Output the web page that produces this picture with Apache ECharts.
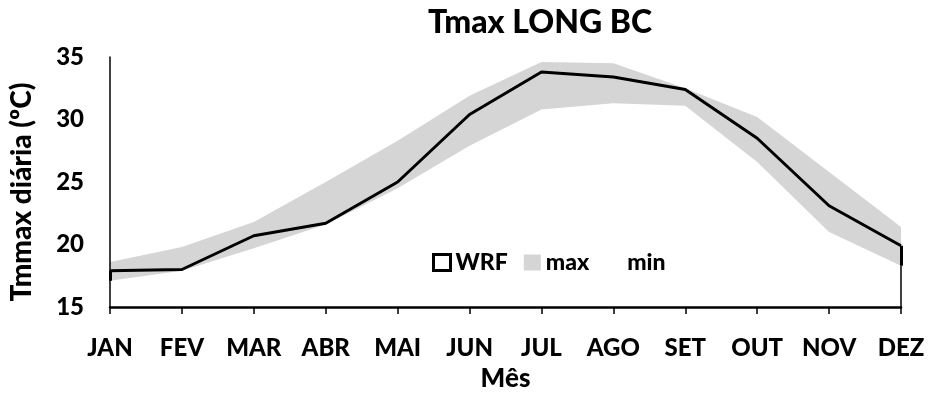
<!DOCTYPE html>
<html>
<head>
<meta charset="utf-8">
<script src="https://cdn.jsdelivr.net/npm/echarts@6/dist/echarts.min.js"></script>
<style>html,body{margin:0;padding:0;background:#fff}#c{width:928px;height:397px}</style>
</head>
<body>
<div id="c"></div>
<script>
const months = ['JAN','FEV','MAR','ABR','MAI','JUN','JUL','AGO','SET','OUT','NOV','DEZ'];
const wrf  = [17.9, 18.0, 20.7, 21.7, 25.0, 30.4, 33.8, 33.4, 32.4, 28.5, 23.1, 19.9];
const maxV = [18.6, 19.8, 21.8, 25.0, 28.3, 31.9, 34.6, 34.5, 32.5, 30.2, 25.8, 21.4];
const minV = [17.1, 17.9, 19.7, 21.6, 24.5, 27.9, 30.8, 31.3, 31.1, 26.6, 21.0, 18.3];
const yTicks = {min: 15, max: 35, interval: 5};

const band = maxV.map((v, i) => +(v - minV[i]).toFixed(2));
const last = months.length - 1;
const FONT = 'Lato';
const W = 900;

const chart = echarts.init(document.getElementById('c'), null, {renderer: 'canvas'});
chart.setOption({
  animation: false,
  backgroundColor: '#fff',
  title: {
    text: 'Tmax LONG BC',
    left: 535, top: 2, textAlign: 'center',
    textStyle: {fontFamily: FONT, fontWeight: W, fontSize: 32, color: '#000'}
  },
  grid: {left: 106, right: 27, top: 57, bottom: 84},
  legend: {
    left: 427, top: 246, itemWidth: 17, itemHeight: 16, itemGap: 16,
    textStyle: {fontFamily: FONT, fontWeight: W, fontSize: 23, color: '#000'},
    data: [
      {name: 'WRF', icon: 'rect', itemStyle: {color: '#fff', borderColor: '#000', borderWidth: 3}},
      {name: 'max', icon: 'rect', itemStyle: {color: '#d5d5d5', borderWidth: 0}},
      {name: 'min', icon: 'rect', itemStyle: {color: '#fff', borderWidth: 0}}
    ]
  },
  xAxis: {
    type: 'category', data: months, boundaryGap: false,
    name: 'Mês', nameLocation: 'middle', nameGap: 59,
    nameTextStyle: {fontFamily: FONT, fontWeight: W, fontSize: 26, color: '#000'},
    axisLine: {lineStyle: {color: '#000', width: 2.5}},
    axisTick: {show: true, length: 7, lineStyle: {color: '#000', width: 1.5}},
    axisLabel: {fontFamily: FONT, fontWeight: W, fontSize: 24, color: '#000', margin: 29, interval: 0},
    splitLine: {show: false}
  },
  yAxis: {
    type: 'value', min: yTicks.min, max: yTicks.max, interval: yTicks.interval, z: 3,
    name: 'Tmmax diária (ºC)', nameLocation: 'middle', nameGap: 74, nameRotate: 90,
    nameTextStyle: {fontFamily: FONT, fontWeight: W, fontSize: 28, color: '#000', padding: [0, 20, 0, 0]},
    axisLine: {show: true, lineStyle: {color: '#000', width: 1.5}},
    axisTick: {show: false},
    axisLabel: {fontFamily: FONT, fontWeight: W, fontSize: 24, color: '#000', margin: 26},
    splitLine: {show: false}
  },
  series: [
    {
      name: 'min', type: 'line', stack: 'b', data: minV, symbol: 'none',
      lineStyle: {width: 0, opacity: 0}, itemStyle: {color: '#fff'},
      areaStyle: {color: '#fff', opacity: 0}, z: 1
    },
    {
      name: 'max', type: 'line', stack: 'b', data: band, symbol: 'none',
      lineStyle: {width: 0, opacity: 0}, itemStyle: {color: '#d5d5d5'},
      areaStyle: {color: '#d5d5d5', opacity: 1}, z: 1
    },
    {
      name: 'WRF', type: 'line', data: wrf, symbol: 'none',
      lineStyle: {color: '#000', width: 3}, itemStyle: {color: '#000'}, z: 4,
      markLine: {
        silent: true, symbol: 'none', label: {show: false},
        lineStyle: {color: '#000', width: 3, type: 'solid'},
        data: [
          [{coord: [months[0], wrf[0]]}, {coord: [months[0], minV[0]]}],
          [{coord: [months[last], wrf[last]]}, {coord: [months[last], minV[last]]}],
          [{coord: [months[last], minV[last]], lineStyle: {width: 1.5}}, {coord: [months[last], yTicks.min]}]
        ]
      }
    }
  ]
});
</script>
</body>
</html>
